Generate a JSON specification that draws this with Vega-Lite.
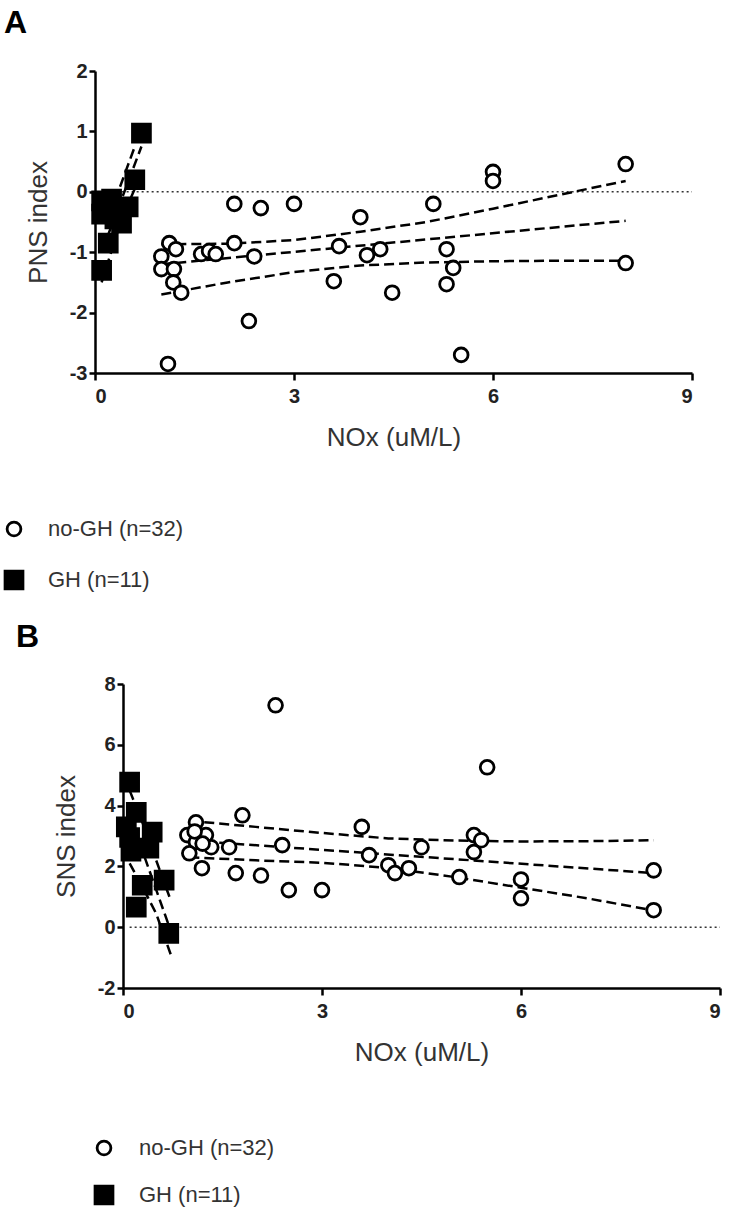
{
  "$schema": "https://vega.github.io/schema/vega-lite/v6.json",
  "background": "white",
  "padding": {"left": 3, "top": 7, "right": 5, "bottom": 5},
  "config": {
    "view": {"stroke": null},
    "font": "Liberation Sans",
    "axis": {
      "grid": false,
      "labelExpr": "'' + datum.value",
      "domainColor": "black",
      "domainWidth": 2.5,
      "tickColor": "black",
      "tickWidth": 2.5,
      "labelFont": "Liberation Sans",
      "labelFontWeight": "bold",
      "labelFontSize": 20,
      "labelColor": "#222222",
      "titleFont": "Liberation Sans",
      "titleFontWeight": "normal",
      "titleFontSize": 26,
      "titleColor": "#333333"
    },
    "axisX": {"tickSize": 7, "labelPadding": 6, "titlePadding": 18},
    "axisY": {"tickSize": 6, "labelPadding": 2, "titlePadding": 18},
    "legend": {
      "labelFont": "Liberation Sans",
      "labelFontSize": 22,
      "labelColor": "#333333",
      "symbolStrokeColor": "black",
      "symbolStrokeWidth": 2.8,
      "padding": 0
    },
    "title": {"font": "Liberation Sans", "fontSize": 32, "fontWeight": "bold", "color": "black", "anchor": "start", "frame": "group"}
  },
  "datasets": {
    "ptsA": [
      {"x": 1.1, "y": -2.85, "group": "no-GH (n=32)"},
      {"x": 1.0, "y": -1.07, "group": "no-GH (n=32)"},
      {"x": 1.0, "y": -1.28, "group": "no-GH (n=32)"},
      {"x": 1.12, "y": -0.85, "group": "no-GH (n=32)"},
      {"x": 1.22, "y": -0.95, "group": "no-GH (n=32)"},
      {"x": 1.19, "y": -1.28, "group": "no-GH (n=32)"},
      {"x": 1.18, "y": -1.5, "group": "no-GH (n=32)"},
      {"x": 1.3, "y": -1.67, "group": "no-GH (n=32)"},
      {"x": 1.6, "y": -1.03, "group": "no-GH (n=32)"},
      {"x": 1.72, "y": -0.98, "group": "no-GH (n=32)"},
      {"x": 1.82, "y": -1.03, "group": "no-GH (n=32)"},
      {"x": 2.1, "y": -0.2, "group": "no-GH (n=32)"},
      {"x": 2.1, "y": -0.85, "group": "no-GH (n=32)"},
      {"x": 2.32, "y": -2.14, "group": "no-GH (n=32)"},
      {"x": 2.4, "y": -1.07, "group": "no-GH (n=32)"},
      {"x": 2.5, "y": -0.27, "group": "no-GH (n=32)"},
      {"x": 3.0, "y": -0.2, "group": "no-GH (n=32)"},
      {"x": 3.6, "y": -1.48, "group": "no-GH (n=32)"},
      {"x": 3.68, "y": -0.9, "group": "no-GH (n=32)"},
      {"x": 4.0, "y": -0.42, "group": "no-GH (n=32)"},
      {"x": 4.1, "y": -1.05, "group": "no-GH (n=32)"},
      {"x": 4.3, "y": -0.95, "group": "no-GH (n=32)"},
      {"x": 4.48, "y": -1.67, "group": "no-GH (n=32)"},
      {"x": 8.0, "y": 0.46, "group": "no-GH (n=32)"},
      {"x": 6.0, "y": 0.33, "group": "no-GH (n=32)"},
      {"x": 6.0, "y": 0.18, "group": "no-GH (n=32)"},
      {"x": 5.1, "y": -0.2, "group": "no-GH (n=32)"},
      {"x": 5.3, "y": -0.95, "group": "no-GH (n=32)"},
      {"x": 5.4, "y": -1.26, "group": "no-GH (n=32)"},
      {"x": 5.3, "y": -1.53, "group": "no-GH (n=32)"},
      {"x": 8.0, "y": -1.18, "group": "no-GH (n=32)"},
      {"x": 5.52, "y": -2.7, "group": "no-GH (n=32)"},
      {"x": 0.7, "y": 0.97, "group": "GH (n=11)"},
      {"x": 0.6, "y": 0.2, "group": "GH (n=11)"},
      {"x": 0.1, "y": -0.15, "group": "GH (n=11)"},
      {"x": 0.25, "y": -0.12, "group": "GH (n=11)"},
      {"x": 0.5, "y": -0.25, "group": "GH (n=11)"},
      {"x": 0.35, "y": -0.3, "group": "GH (n=11)"},
      {"x": 0.1, "y": -0.37, "group": "GH (n=11)"},
      {"x": 0.4, "y": -0.52, "group": "GH (n=11)"},
      {"x": 0.2, "y": -0.85, "group": "GH (n=11)"},
      {"x": 0.1, "y": -1.3, "group": "GH (n=11)"},
      {"x": 0.3, "y": -0.45, "group": "GH (n=11)"}
    ],
    "ptsB": [
      {"x": 1.1, "y": 3.45, "group": "no-GH (n=32)"},
      {"x": 0.97, "y": 3.03, "group": "no-GH (n=32)"},
      {"x": 1.25, "y": 3.03, "group": "no-GH (n=32)"},
      {"x": 1.1, "y": 2.8, "group": "no-GH (n=32)"},
      {"x": 1.0, "y": 2.43, "group": "no-GH (n=32)"},
      {"x": 1.33, "y": 2.63, "group": "no-GH (n=32)"},
      {"x": 1.19, "y": 1.94, "group": "no-GH (n=32)"},
      {"x": 1.6, "y": 2.63, "group": "no-GH (n=32)"},
      {"x": 1.7, "y": 1.78, "group": "no-GH (n=32)"},
      {"x": 1.8, "y": 3.68, "group": "no-GH (n=32)"},
      {"x": 2.08, "y": 1.7, "group": "no-GH (n=32)"},
      {"x": 2.4, "y": 2.7, "group": "no-GH (n=32)"},
      {"x": 2.5, "y": 1.22, "group": "no-GH (n=32)"},
      {"x": 3.0, "y": 1.22, "group": "no-GH (n=32)"},
      {"x": 3.6, "y": 3.3, "group": "no-GH (n=32)"},
      {"x": 3.71, "y": 2.37, "group": "no-GH (n=32)"},
      {"x": 4.0, "y": 2.04, "group": "no-GH (n=32)"},
      {"x": 4.1, "y": 1.78, "group": "no-GH (n=32)"},
      {"x": 4.31, "y": 1.94, "group": "no-GH (n=32)"},
      {"x": 4.5, "y": 2.63, "group": "no-GH (n=32)"},
      {"x": 5.07, "y": 1.65, "group": "no-GH (n=32)"},
      {"x": 5.49, "y": 5.26, "group": "no-GH (n=32)"},
      {"x": 5.29, "y": 3.03, "group": "no-GH (n=32)"},
      {"x": 5.4, "y": 2.86, "group": "no-GH (n=32)"},
      {"x": 5.29, "y": 2.47, "group": "no-GH (n=32)"},
      {"x": 6.0, "y": 1.57, "group": "no-GH (n=32)"},
      {"x": 6.0, "y": 0.95, "group": "no-GH (n=32)"},
      {"x": 8.0, "y": 1.87, "group": "no-GH (n=32)"},
      {"x": 8.0, "y": 0.56, "group": "no-GH (n=32)"},
      {"x": 2.3, "y": 7.3, "group": "no-GH (n=32)"},
      {"x": 1.08, "y": 3.15, "group": "no-GH (n=32)"},
      {"x": 1.2, "y": 2.75, "group": "no-GH (n=32)"},
      {"x": 0.1, "y": 4.77, "group": "GH (n=11)"},
      {"x": 0.2, "y": 3.78, "group": "GH (n=11)"},
      {"x": 0.44, "y": 3.13, "group": "GH (n=11)"},
      {"x": 0.39, "y": 2.6, "group": "GH (n=11)"},
      {"x": 0.1, "y": 2.95, "group": "GH (n=11)"},
      {"x": 0.12, "y": 2.5, "group": "GH (n=11)"},
      {"x": 0.29, "y": 1.38, "group": "GH (n=11)"},
      {"x": 0.62, "y": 1.55, "group": "GH (n=11)"},
      {"x": 0.2, "y": 0.66, "group": "GH (n=11)"},
      {"x": 0.69, "y": -0.2, "group": "GH (n=11)"},
      {"x": 0.05, "y": 3.3, "group": "GH (n=11)"}
    ],
    "linesA": [
      {"id": "fit", "x": 1.0, "y": -1.2},
      {"id": "fit", "x": 8.0, "y": -0.48},
      {"id": "up", "x": 1.0, "y": -0.87},
      {"id": "up", "x": 2.0, "y": -0.86},
      {"id": "up", "x": 3.0, "y": -0.8},
      {"id": "up", "x": 4.0, "y": -0.66},
      {"id": "up", "x": 5.0, "y": -0.5},
      {"id": "up", "x": 6.0, "y": -0.28},
      {"id": "up", "x": 7.0, "y": -0.05},
      {"id": "up", "x": 8.0, "y": 0.18},
      {"id": "lo", "x": 1.0, "y": -1.7},
      {"id": "lo", "x": 2.0, "y": -1.5},
      {"id": "lo", "x": 3.0, "y": -1.33},
      {"id": "lo", "x": 4.0, "y": -1.22},
      {"id": "lo", "x": 5.0, "y": -1.17},
      {"id": "lo", "x": 6.0, "y": -1.15},
      {"id": "lo", "x": 7.0, "y": -1.14},
      {"id": "lo", "x": 8.0, "y": -1.14},
      {"id": "ghfit", "x": 0.1, "y": -1.0},
      {"id": "ghfit", "x": 0.7, "y": 0.75},
      {"id": "ghup", "x": 0.3, "y": -0.15},
      {"id": "ghup", "x": 0.45, "y": 0.3},
      {"id": "ghup", "x": 0.6, "y": 0.75},
      {"id": "ghlo", "x": 0.1, "y": -1.5},
      {"id": "ghlo", "x": 0.4, "y": -0.45},
      {"id": "ghlo", "x": 0.7, "y": 0.3}
    ],
    "linesB": [
      {"id": "fit", "x": 1.0, "y": 2.85},
      {"id": "fit", "x": 8.0, "y": 1.78},
      {"id": "up", "x": 1.0, "y": 3.5},
      {"id": "up", "x": 2.0, "y": 3.3},
      {"id": "up", "x": 3.0, "y": 3.1},
      {"id": "up", "x": 4.0, "y": 2.92},
      {"id": "up", "x": 5.0, "y": 2.85},
      {"id": "up", "x": 6.0, "y": 2.82},
      {"id": "up", "x": 7.0, "y": 2.83},
      {"id": "up", "x": 8.0, "y": 2.86},
      {"id": "lo", "x": 1.0, "y": 2.3},
      {"id": "lo", "x": 2.0, "y": 2.2},
      {"id": "lo", "x": 3.0, "y": 2.12},
      {"id": "lo", "x": 4.0, "y": 1.95},
      {"id": "lo", "x": 5.0, "y": 1.65},
      {"id": "lo", "x": 6.0, "y": 1.3},
      {"id": "lo", "x": 7.0, "y": 0.95},
      {"id": "lo", "x": 8.0, "y": 0.55},
      {"id": "ghfit", "x": 0.1, "y": 3.7},
      {"id": "ghfit", "x": 0.7, "y": 0.0},
      {"id": "ghup", "x": 0.1, "y": 4.5},
      {"id": "ghup", "x": 0.3, "y": 3.4},
      {"id": "ghup", "x": 0.5, "y": 2.2},
      {"id": "ghup", "x": 0.7, "y": 1.0},
      {"id": "ghlo", "x": 0.1, "y": 2.1},
      {"id": "ghlo", "x": 0.3, "y": 1.3},
      {"id": "ghlo", "x": 0.5, "y": 0.45},
      {"id": "ghlo", "x": 0.72, "y": -0.9}
    ]
  },
  "bounds": "flush",
  "spacing": 311,
  "resolve": {
    "scale": {"x": "independent", "y": "independent", "shape": "independent", "fill": "independent", "size": "independent", "stroke": "independent"},
    "axis": {"x": "independent", "y": "independent"},
    "legend": {"shape": "independent", "fill": "independent", "size": "independent", "stroke": "independent"}
  },
  "vconcat": [
    {
      "width": 597,
      "height": 302,
      "title": {"text": "A", "dx": -91, "offset": 21},
      "layer": [
        {
          "data": {"values": [{"y": 0}]},
          "mark": {"type": "rule", "strokeDash": [2, 3], "strokeWidth": 1.4, "color": "#333333"},
          "encoding": {
            "y": {"field": "y", "type": "quantitative", "scale": {"domain": [-3, 2], "nice": false, "zero": false}},
            "x": {"datum": 0.1, "type": "quantitative", "scale": {"domain": [0, 9], "nice": false}},
            "x2": {"datum": 9}
          }
        },
        {
          "data": {"name": "linesA"},
          "mark": {"type": "line", "strokeDash": [10, 5], "strokeWidth": 2.5, "color": "black"},
          "encoding": {
            "x": {"field": "x", "type": "quantitative"},
            "y": {"field": "y", "type": "quantitative"},
            "detail": {"field": "id", "type": "nominal"}
          }
        },
        {
          "data": {"name": "ptsA"},
          "mark": {"type": "point", "filled": true, "strokeWidth": 2.8, "opacity": 1},
          "encoding": {
            "x": {"field": "x", "type": "quantitative", "scale": {"domain": [0, 9], "nice": false},
                  "axis": {"values": [0, 3, 6, 9], "title": "NOx (uM/L)"}},
            "y": {"field": "y", "type": "quantitative", "scale": {"domain": [-3, 2], "nice": false, "zero": false},
                  "axis": {"values": [-3, -2, -1, 0, 1, 2], "title": "PNS index"}},
            "shape": {"field": "group", "type": "nominal",
                      "scale": {"domain": ["no-GH (n=32)", "GH (n=11)"], "range": ["circle", "square"]},
                      "legend": {"title": null, "orient": "none", "legendX": -92, "legendY": 447, "labelOffset": 23, "rowPadding": 23}},
            "fill": {"field": "group", "type": "nominal",
                     "scale": {"domain": ["no-GH (n=32)", "GH (n=11)"], "range": ["white", "black"]},
                     "legend": {"title": null, "orient": "none", "legendX": -92, "legendY": 447, "labelOffset": 23, "rowPadding": 23}},
            "stroke": {"field": "group", "type": "nominal",
                       "scale": {"domain": ["no-GH (n=32)", "GH (n=11)"], "range": ["black", "black"]},
                       "legend": {"title": null, "orient": "none", "legendX": -92, "legendY": 447, "labelOffset": 23, "rowPadding": 23}},
            "size": {"field": "group", "type": "nominal",
                     "scale": {"domain": ["no-GH (n=32)", "GH (n=11)"], "range": [190, 320]},
                     "legend": {"title": null, "orient": "none", "legendX": -92, "legendY": 447, "labelOffset": 23, "rowPadding": 23}}
          }
        }
      ]
    },
    {
      "width": 625,
      "height": 304,
      "title": {"text": "B", "dx": -79, "offset": 20},
      "layer": [
        {
          "data": {"values": [{"y": 0}]},
          "mark": {"type": "rule", "strokeDash": [2, 3], "strokeWidth": 1.4, "color": "#333333"},
          "encoding": {
            "y": {"field": "y", "type": "quantitative", "scale": {"domain": [-2, 8], "nice": false, "zero": false}},
            "x": {"datum": 0.1, "type": "quantitative", "scale": {"domain": [0, 9], "nice": false, "range": [28, 625]}},
            "x2": {"datum": 9}
          }
        },
        {
          "data": {"name": "linesB"},
          "mark": {"type": "line", "strokeDash": [10, 5], "strokeWidth": 2.5, "color": "black"},
          "encoding": {
            "x": {"field": "x", "type": "quantitative"},
            "y": {"field": "y", "type": "quantitative"},
            "detail": {"field": "id", "type": "nominal"}
          }
        },
        {
          "data": {"name": "ptsB"},
          "mark": {"type": "point", "filled": true, "strokeWidth": 2.8, "opacity": 1},
          "encoding": {
            "x": {"field": "x", "type": "quantitative", "scale": {"domain": [0, 9], "nice": false, "range": [28, 625]},
                  "axis": {"values": [0, 3, 6, 9], "title": "NOx (uM/L)"}},
            "y": {"field": "y", "type": "quantitative", "scale": {"domain": [-2, 8], "nice": false, "zero": false},
                  "axis": {"values": [-2, 0, 2, 4, 6, 8], "title": "SNS index", "offset": -28}},
            "shape": {"field": "group", "type": "nominal",
                      "scale": {"domain": ["no-GH (n=32)", "GH (n=11)"], "range": ["circle", "square"]},
                      "legend": {"title": null, "orient": "none", "legendX": -2, "legendY": 453, "labelOffset": 24, "rowPadding": 19}},
            "fill": {"field": "group", "type": "nominal",
                     "scale": {"domain": ["no-GH (n=32)", "GH (n=11)"], "range": ["white", "black"]},
                     "legend": {"title": null, "orient": "none", "legendX": -2, "legendY": 453, "labelOffset": 24, "rowPadding": 19}},
            "stroke": {"field": "group", "type": "nominal",
                       "scale": {"domain": ["no-GH (n=32)", "GH (n=11)"], "range": ["black", "black"]},
                       "legend": {"title": null, "orient": "none", "legendX": -2, "legendY": 453, "labelOffset": 24, "rowPadding": 19}},
            "size": {"field": "group", "type": "nominal",
                     "scale": {"domain": ["no-GH (n=32)", "GH (n=11)"], "range": [190, 320]},
                     "legend": {"title": null, "orient": "none", "legendX": -2, "legendY": 453, "labelOffset": 24, "rowPadding": 19}}
          }
        }
      ]
    }
  ]
}
